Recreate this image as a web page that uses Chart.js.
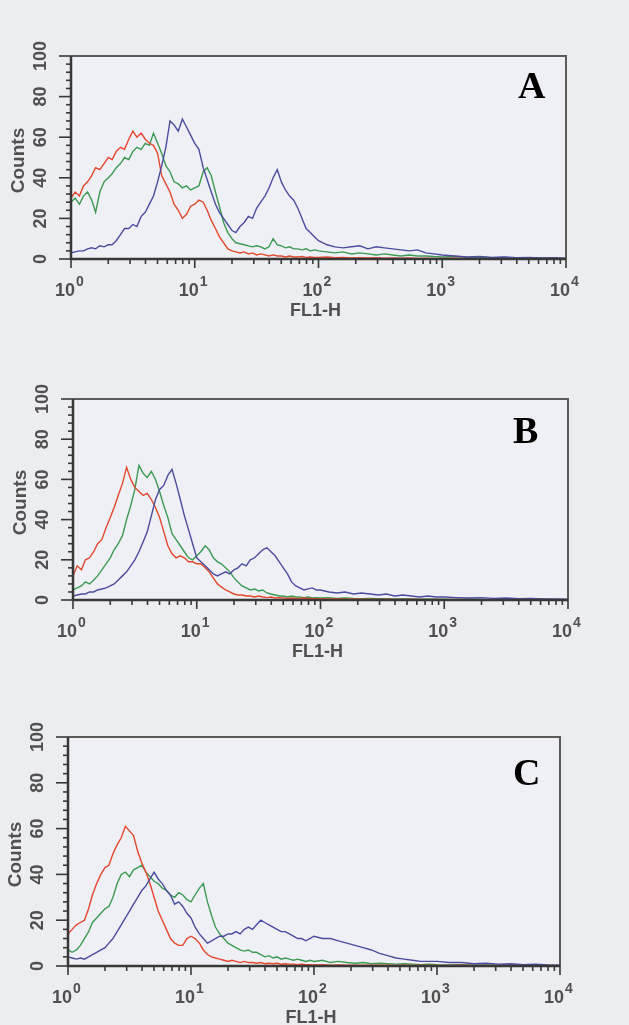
<!DOCTYPE html>
<html>
<head>
<meta charset="utf-8">
<script src="https://cdn.jsdelivr.net/npm/chart.js@4.4.1/dist/chart.umd.min.js"></script>
<style>
  html, body { margin: 0; padding: 0; background: #ecedf0; }
  body { width: 629px; height: 1025px; position: relative; overflow: hidden; }
  canvas { position: absolute; left: 0; }
</style>
</head>
<body>
<canvas id="panelA" width="629" height="335" style="top:0px"></canvas>
<canvas id="panelB" width="629" height="345" style="top:335px"></canvas>
<canvas id="panelC" width="629" height="345" style="top:680px"></canvas>
<script>
// FL1-H channel positions (log spaced), first one repeated for the channel-0 pile-up
const xs = [1, 1, 1.08, 1.17, 1.26, 1.36, 1.47, 1.58, 1.71, 1.85, 2.0, 2.15, 2.32, 2.51, 2.71, 2.93, 3.16, 3.41, 3.69, 3.98, 4.3, 4.64, 5.01, 5.41, 5.84, 6.31, 6.81, 7.36, 7.94, 8.58, 9.26,
  10, 10.8, 11.7, 12.6, 13.6, 14.7, 15.8, 17.1, 18.5, 20, 21.5, 23.2, 25.1, 27.1, 29.3, 31.6, 34.1, 36.9, 39.8, 43, 46.4, 50.1, 54.1, 58.4, 63.1, 68.1, 73.6, 79.4, 85.8, 92.6,
  100, 117, 136, 158, 185, 215, 251, 293, 341, 398, 464, 541, 631, 736, 858,
  1000, 1259, 1585, 1995, 2512, 3162, 3981, 5012, 6310, 7943, 10000];

// panel A
const redA = [30,
  30,33,31,36,38,41,45,44,47,50, 49,53,55,54,59,63,60,62,59,57, 56,52,41,37,33,27,24,20,22,26,
  27,29,28,24,19,15,11,8,5,4, 3.5,3,3.5,2.5,3,2,2.5,2,1.5,2, 1.5,1.5,1,1.5,1,1,1.2,0.8,1,0.8,
  0.8,1,0.6,0.8,0.5,0.7,0.5,0.6,0.4,0.5,0.4,0.5,0.3,0.4,0.3,
  0.3,0.4,0.3,0.2,0.3,0.2,0.3,0.2,0.2,0.3,0.2];
const greenA = [64,
  28,30,27,31,33,29,23,33,38,40, 42,45,47,50,49,53,55,54,57,56, 62,57,52,46,43,38,37,35,36,34,
  35,36,43,45,41,33,26,18,13,10, 8,7.5,7,6.5,6,6.5,6,5,6,10, 7,6.5,5.5,6,5,5,4.5,5,4,4.5,
  4,3.5,3,3.5,2.5,3,2.5,2,2.5,2,1.5,2,1.5,1.5,1.2,
  1,1.2,0.8,1,0.6,0.8,0.5,0.6,0.5,0.4,0.3];
const blueA = [3,
  3,3.5,4,4,5,5.5,5,6.5,6,7, 7,9,12,15,15,17,16,21,23,27, 31,38,46,55,68,66,63,69,65,61,
  57,54,45,39,33,27,23,20,17,14, 13,16,18,21,20,25,28,31,35,40, 44,38,34,31,29,25,20,15,13,11,
  9,7,6,5.5,6,6.5,5,6,5.5,5,4.5,4,4.5,3,2.5,
  2,1.5,1,1.2,0.8,1,0.6,0.8,0.5,0.6,0.4];

// panel B
const redB = [12,
  12,17,15,20,21,24,28,30,36,41, 46,52,58,66,60,56,54,52,53,50, 46,41,34,27,23,21,22,21,19,19,
  18,18,16,14,11,8,6.5,5,4,3, 2.5,2.5,2,2,1.5,2,1.5,1.2,1.5,1, 1.2,1,0.8,1,0.8,0.8,1,0.6,0.8,0.6,
  0.6,0.5,0.6,0.4,0.5,0.4,0.4,0.3,0.4,0.3,0.3,0.4,0.3,0.2,0.3,
  0.2,0.3,0.2,0.2,0.3,0.2,0.2,0.2,0.3,0.2,0.2];
const greenB = [57,
  5,6,7,9,8,10,12,15,18,21, 25,28,32,40,47,55,67,63,61,64, 60,54,47,41,33,30,27,24,21,20,
  22,24,27,25,21,19,18,16,14,11, 9,7,6,5,5.5,4.5,5,3.5,3,2.5, 2,2,1.5,2,1.5,1.5,1.2,1.5,1,1.2,
  1,1.2,0.8,1,0.8,0.7,0.8,0.6,0.7,0.5,0.6,0.5,0.4,0.5,0.4,
  0.4,0.3,0.4,0.3,0.2,0.3,0.2,0.3,0.2,0.2,0.2];
const blueB = [2,
  2,2.5,3,3,4,4,5,5.5,6,7, 8,10,12,14,17,20,24,29,34,42, 50,55,57,62,65,58,50,42,35,28,
  21,19,17,15,13,12,13,14,13,15, 16,18,17,20,21,23,25,26,24,22, 19,16,13,9,7,6,5,5.5,6,5,
  5,4,3.5,4,3,3.5,3,2.5,3,2,2.5,2,1.5,2,1.5,
  1.5,1.2,1,1.2,0.8,1,0.6,0.8,0.5,0.5,0.4];

// panel C
const redC = [14,
  14,16,18,19,20,25,31,36,40,43, 44,49,53,56,61,59,57,50,45,41, 36,30,24,20,16,12,10,9,9,12,
  13,12,10,7,5,4,3.5,3,2.5,2, 2.5,2,1.5,2,1.5,1.5,1.2,1.5,1,1.2, 1,1.2,0.8,1,0.8,0.8,0.6,0.8,0.6,0.6,
  0.5,0.6,0.4,0.5,0.4,0.4,0.3,0.4,0.3,0.3,0.2,0.3,0.2,0.3,0.2,
  0.2,0.2,0.3,0.2,0.2,0.2,0.3,0.2,0.2,0.2,0.2];
const greenC = [57,
  7,6,7,9,12,15,19,21,23,25, 26,30,36,40,41,39,42,43,44,41, 39,37,36,34,33,31,30,32,31,29,
  28,31,34,36,28,22,17,14,12,10, 9,8,7,6.5,7,6,6,5,4,4.5, 3.5,4,3,3.5,3,2.5,3,2.5,2,2.5,
  2,2.5,1.5,2,1.5,1.2,1.5,1,1.2,1,0.8,1,0.8,0.6,0.8,
  0.6,0.5,0.6,0.4,0.5,0.3,0.4,0.3,0.3,0.2,0.2];
const blueC = [4,
  4,3.5,3,3.5,3,4,5,6,7,8, 10,12,15,18,21,24,27,30,33,35, 38,41,38,36,33,31,27,28,26,23,
  21,17,14,12,10,11,12,13,13,14, 14,15,14,16,17,16,18,20,19,18, 17,16,15,15,14,13,12,12,11,12,
  13,12,12,11,10,9,8,7,5.5,4.5,3.5,3,2.5,2,2,
  2,1.5,1.5,1,1.2,0.8,1,0.6,0.8,0.5,0.4];

const yTicks = [0, 20, 40, 60, 80, 100];
const xDecades = [0, 1, 2, 3, 4];

const RED = '#e4472d', GREEN = '#3c9a52', BLUE = '#4b4c9f';
const TEXT = '#505050';
const SANS = '"Liberation Sans", Arial, sans-serif';

const decor = {
  id: 'decor',
  beforeDatasetsDraw(chart) {
    const {ctx, chartArea: a} = chart;
    ctx.save();
    ctx.fillStyle = '#eff0f5';
    ctx.fillRect(a.left, a.top, a.right - a.left, a.bottom - a.top);
    ctx.restore();
  },
  afterDatasetsDraw(chart, args, opts) {
    const {ctx, chartArea: a, scales: {x, y}} = chart;
    ctx.save();
    // box
    ctx.strokeStyle = '#5a5a5a';
    ctx.lineWidth = 2;
    ctx.beginPath();
    ctx.moveTo(a.left, a.top); ctx.lineTo(a.right, a.top); ctx.lineTo(a.right, a.bottom);
    ctx.stroke();
    ctx.strokeStyle = '#383838';
    ctx.lineWidth = 2.5;
    ctx.beginPath();
    ctx.moveTo(a.left, a.top); ctx.lineTo(a.left, a.bottom); ctx.lineTo(a.right, a.bottom);
    ctx.stroke();

    // y ticks, minor every 4 counts
    ctx.lineWidth = 1.6;
    for (let v = 0; v <= 100; v += 4) {
      const py = y.getPixelForValue(v);
      const len = v % 20 === 0 ? 12 : 5;
      ctx.beginPath(); ctx.moveTo(a.left, py); ctx.lineTo(a.left - len, py); ctx.stroke();
    }
    // x ticks
    xDecades.forEach(k => {
      const px = x.getPixelForValue(Math.pow(10, k));
      ctx.beginPath(); ctx.moveTo(px, a.bottom); ctx.lineTo(px, a.bottom + 9); ctx.stroke();
      if (k < 4) {
        for (let m = 2; m <= 9; m++) {
          const pm = x.getPixelForValue(m * Math.pow(10, k));
          ctx.beginPath(); ctx.moveTo(pm, a.bottom); ctx.lineTo(pm, a.bottom + 5); ctx.stroke();
        }
      }
    });

    ctx.fillStyle = TEXT;
    // y tick labels, rotated
    ctx.font = 'bold 18px ' + SANS;
    ctx.textAlign = 'center';
    ctx.textBaseline = 'middle';
    yTicks.forEach(v => {
      ctx.save();
      ctx.translate(a.left - 30, y.getPixelForValue(v));
      ctx.rotate(-Math.PI / 2);
      ctx.fillText(String(v), 0, 0);
      ctx.restore();
    });
    // Counts
    ctx.save();
    ctx.font = 'bold 19px ' + SANS;
    ctx.translate(a.left - 52, (a.top + a.bottom) / 2 + 3);
    ctx.rotate(-Math.PI / 2);
    ctx.fillText('Counts', 0, 0);
    ctx.restore();

    // x tick labels 10^k
    ctx.textBaseline = 'alphabetic';
    xDecades.forEach(k => {
      const px = x.getPixelForValue(Math.pow(10, k));
      ctx.font = 'bold 18px ' + SANS;
      ctx.textAlign = 'right';
      ctx.fillText('10', px + 4, a.bottom + 37);
      ctx.font = 'bold 14px ' + SANS;
      ctx.textAlign = 'left';
      ctx.fillText(String(k), px + 5, a.bottom + 27);
    });
    // FL1-H
    ctx.font = 'bold 18px ' + SANS;
    ctx.textAlign = 'center';
    ctx.fillText('FL1-H', (a.left + a.right) / 2 - 3, a.bottom + 57);

    // panel letter
    ctx.fillStyle = '#000';
    ctx.font = 'bold 38px "Liberation Serif", "Times New Roman", serif';
    ctx.textAlign = 'left';
    ctx.fillText(opts.letter, a.right + opts.dx, a.top + opts.dy);
    ctx.restore();
  }
};

function histo(id, letter, pad, dx, dy, red, green, blue) {
  const pts = vals => xs.map((v, i) => ({x: v, y: vals[i]}));
  const line = (label, vals, color) => ({
    label: label, data: pts(vals), borderColor: color, borderWidth: 1.4,
    pointRadius: 0, tension: 0, fill: false
  });
  return new Chart(document.getElementById(id).getContext('2d'), {
    type: 'line',
    data: {
      datasets: [line('blue', blue, BLUE), line('red', red, RED), line('green', green, GREEN)]
    },
    options: {
      responsive: false,
      animation: false,
      layout: { padding: pad },
      plugins: {
        legend: { display: false },
        tooltip: { enabled: false },
        decor: { letter: letter, dx: dx, dy: dy }
      },
      scales: {
        x: { type: 'logarithmic', min: 1, max: 10000, display: false },
        y: { type: 'linear', min: 0, max: 100, display: false }
      }
    },
    plugins: [decor]
  });
}

histo('panelA', 'A', {left: 71, right: 63, top: 56, bottom: 76}, -48, 42, redA, greenA, blueA);
histo('panelB', 'B', {left: 73, right: 61, top: 64, bottom: 80}, -55, 44, redB, greenB, blueB);
histo('panelC', 'C', {left: 68, right: 69, top: 57, bottom: 59}, -47, 48, redC, greenC, blueC);
</script>
</body>
</html>
